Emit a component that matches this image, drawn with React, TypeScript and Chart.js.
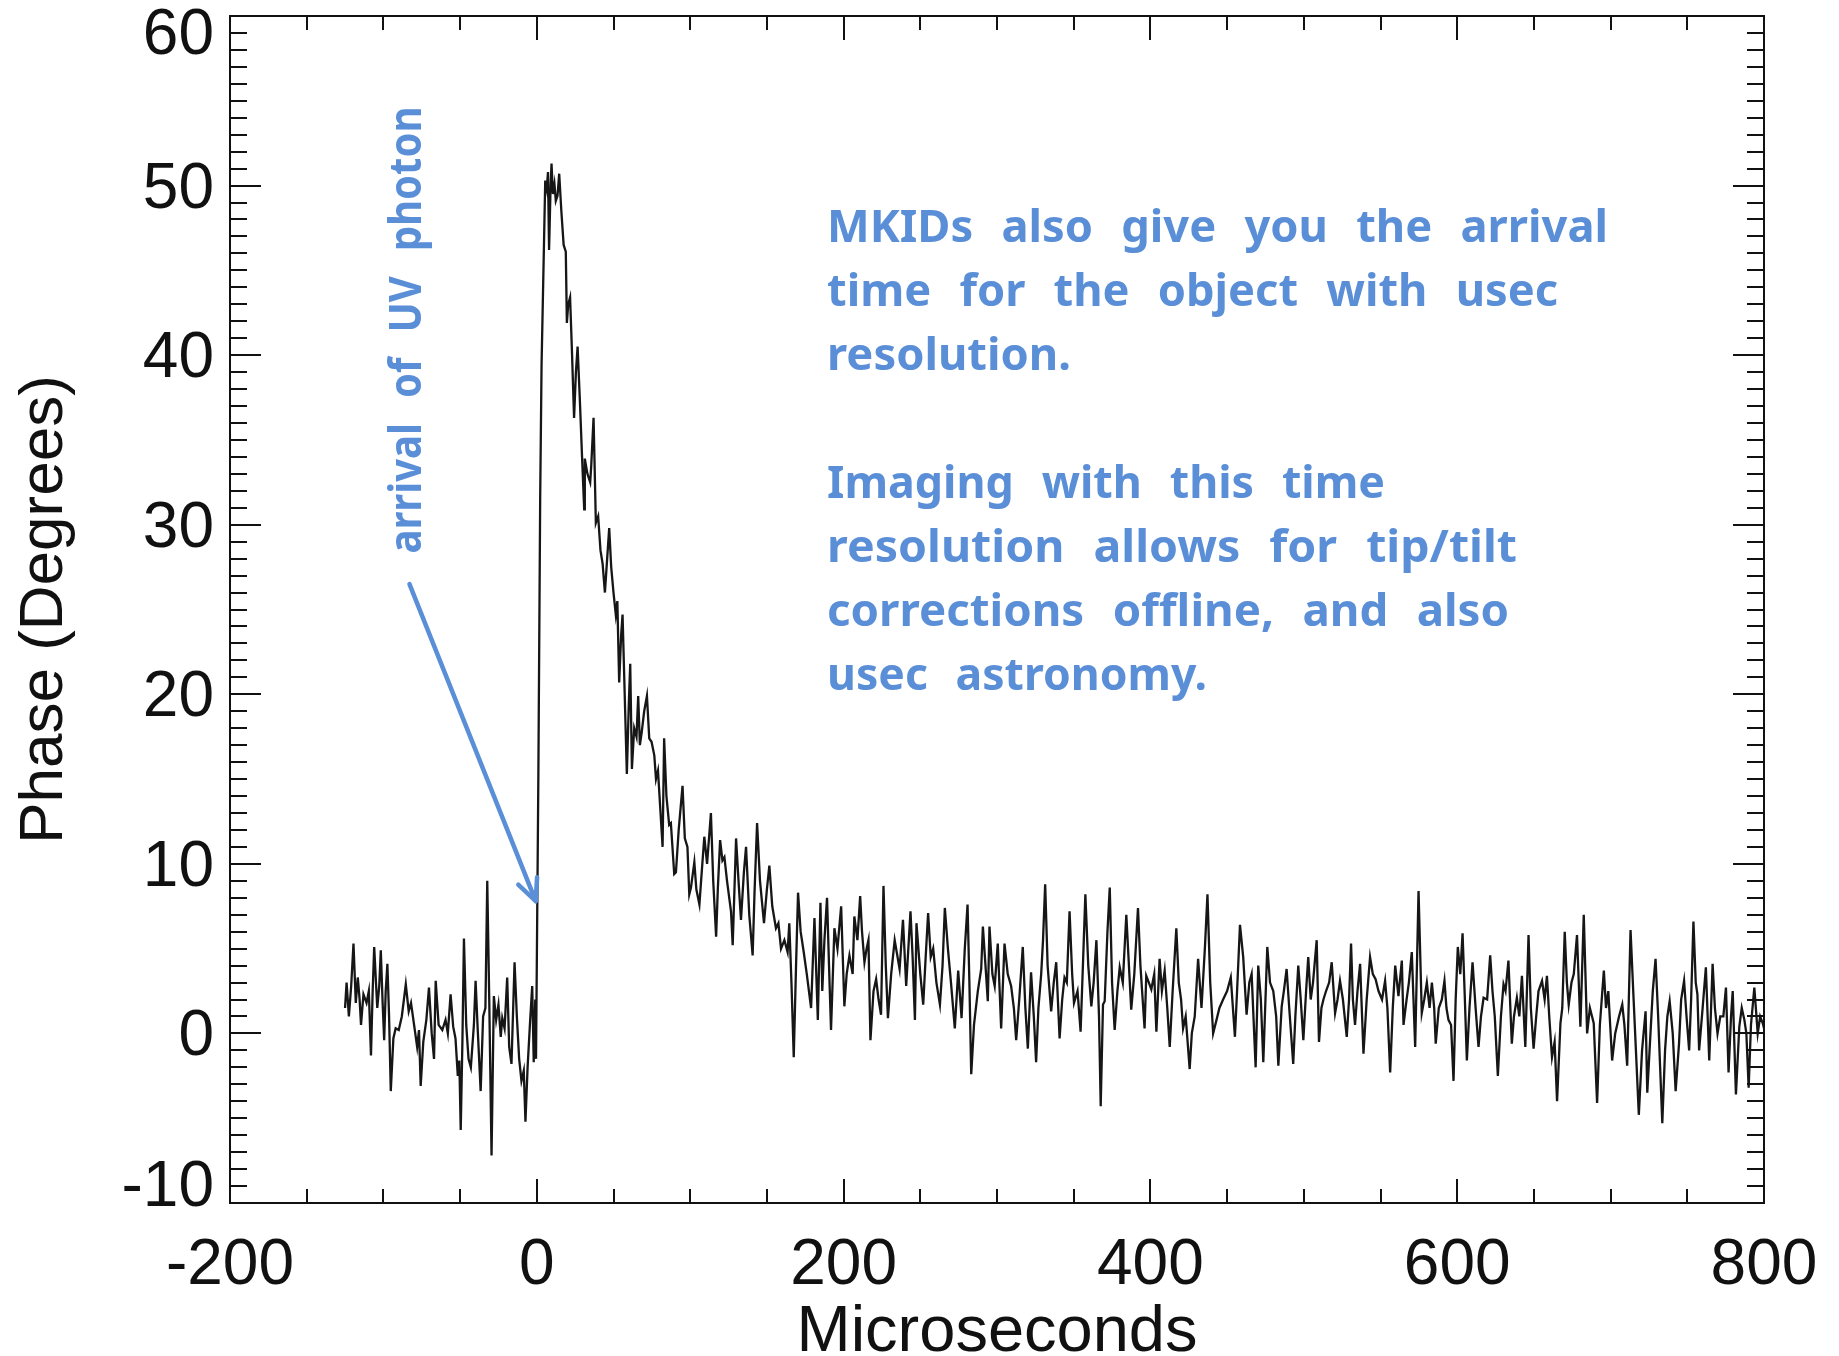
import React, { useEffect, useRef } from "react";
import { Chart, registerables } from "chart.js";

Chart.register(...registerables);

// ---------- data (microseconds, phase in degrees) ----------
const baselineBefore: [number, number][] = [
  [-125, 1.5], [-124, 3.0], [-122.5, 1.0], [-121, 2.8], [-119.5, 5.3], [-118, 1.8], [-116.7, 3.3], [-115.5, 2.0],
  [-114.6, 0.5], [-113, 2.3], [-111, 1.8], [-109.5, 2.5], [-108.1, -1.3], [-107, 2.5], [-106, 5.1], [-104, 1.5],
  [-102.7, 2.8], [-101.7, 4.9], [-100.5, 1.8], [-99.5, -0.4], [-98.5, 2.5], [-97.4, 4.1], [-96.3, 1.0], [-95.2, -3.4],
  [-93.5, -0.3], [-92, 0.3], [-90, 0.2], [-88, 1.0], [-85.4, 2.9], [-83.5, 1.3], [-82, 1.8], [-80, 0.5],
  [-78, -0.8], [-76.8, 0.2], [-75.7, -3.1], [-74, -0.5], [-72, 0.8], [-70.3, 2.7], [-68.5, 0.0], [-67, -1.5],
  [-65.9, 3.1], [-64, 0.5], [-61.6, 0.2], [-59.5, 0.8], [-58, 0.0], [-56.2, 2.3], [-54.5, 0.4], [-53, -0.3],
  [-51.5, -2.5], [-50.5, -1.6], [-49.6, -5.7], [-48.5, -0.5], [-47.5, 5.6], [-46, 0.5], [-44.5, -1.5], [-43, -2.0],
  [-41, 0.5], [-39.9, 3.1], [-38.5, 0.2], [-36.6, -3.4], [-35, 1.0], [-33.5, 1.5], [-32.3, 9.0], [-31, 2.0],
  [-29.5, -7.2], [-28, 2.2], [-26.5, 0.8], [-25, 1.7], [-23.5, -0.2], [-22.5, 0.9], [-21, 0.3], [-19.3, 3.3],
  [-18, -0.8], [-16.5, -1.8], [-14.5, 4.2], [-13, 1.0], [-11.5, -1.5], [-10, -2.8], [-8.5, -2.2], [-7.4, -5.2],
  [-6, -2.0], [-4.5, 0.5], [-3, 2.8], [-2, -1.7], [-1, 2.0], [-0.5, -1.5],
];

const pulsePeak: [number, number][] = [
  [1.0, 15], [2.2, 31.5], [3.1, 39.4], [4.4, 45.3], [5.5, 50.3], [6.5, 49.8], [7.3, 50.8], [8, 46.2],
  [9, 50.0], [9.6, 51.3], [10.5, 49.5], [11.5, 50.1], [12.4, 49.1], [13.5, 49.4], [14.6, 50.7], [16, 48.5],
  [17.5, 46.5], [18.9, 46.1], [19.6, 41.9], [20.5, 43.0], [21.7, 43.4], [23, 40.0], [24.3, 36.3], [25.5, 39.0],
  [26.6, 40.5], [28, 37.5], [29.5, 34.0], [30.9, 30.9], [31.3, 33.9], [33, 33.0], [34.8, 32.5], [35.5, 33.5],
  [37, 36.3], [38.5, 30.1], [40, 30.5], [41.5, 28.5], [42.9, 27.7], [44.4, 26.0], [45.5, 27.5], [47.2, 29.8],
  [48.5, 27.5], [50, 26.0], [51.5, 24.7], [52.5, 25.5], [53.7, 20.7], [55, 23.5], [55.9, 24.7], [57, 21.0],
  [58.7, 15.3], [60, 19.5], [60.9, 21.8], [62, 15.6],
];

const pulseDecay: [number, number][] = [
  [63.5, 18.0], [65, 17.5], [66.1, 19.9], [67.2, 17.0], [68.3, 17.7], [70, 19.0], [71.8, 19.9], [73.3, 17.4],
  [74.8, 17.2], [76.6, 16.4], [77.7, 15.0], [79, 15.5], [80, 14.0], [82, 11.0], [83, 17.4], [84.5, 14.0],
  [86.3, 12.3], [87.4, 12.4], [89.6, 9.4], [90.7, 9.5], [92.5, 12.0], [95, 14.6], [96.5, 11.5], [98.2, 11.0],
  [99.4, 8.2], [100.5, 8.6], [102.7, 10.1], [104, 8.5], [106, 7.6], [107.5, 9.5], [109.2, 11.6], [111, 10.0],
  [113.5, 13.0], [115, 9.0], [116.9, 5.7], [118, 8.5], [119.5, 11.4], [121, 10.2], [122.3, 10.4], [124, 9.0],
  [126.6, 7.2], [127.7, 5.2], [129.9, 11.5], [131.5, 9.0], [133.1, 6.7], [135, 9.5], [136.4, 11.0], [138.5, 7.0],
  [140.7, 4.6], [142, 8.5], [143.6, 12.4], [145.5, 9.0], [148.1, 6.5], [150, 8.5], [151.6, 9.9], [153.5, 7.5],
  [155.9, 6.2], [157.5, 6.5], [159.2, 5.0], [161.4, 5.5], [163.5, 4.8], [164.6, 6.5], [166, 3.0], [167.5, -1.4],
  [169, 4.0], [170.3, 8.3],
];

const tailEarly: [number, number][] = [
  [172, 6.0], [174, 4.8], [176, 3.5], [178.8, 1.5], [181, 6.8], [182.2, 3.5], [183.2, 0.8], [184.9, 7.7],
  [186.1, 2.5], [187.5, 5.5], [189.2, 8.0], [190.5, 4.0], [191.8, 0.2], [194, 6.2], [196, 5.0], [198.4, 7.5],
  [200.5, 1.6], [202, 3.5], [203.8, 4.6], [205.9, 3.5], [207, 6.9], [209, 5.5], [210.8, 8.1], [212, 6.0],
  [213.6, 4.2], [215, 5.0], [216.2, 5.5], [217.5, -0.4], [219.5, 2.5], [221.2, 3.2], [222.8, 2.0], [224.4, 1.1],
  [226, 8.7], [227.5, 4.0], [228.9, 0.9], [231, 3.5], [233.3, 5.5], [236.5, 3.8], [238.7, 6.7], [240.8, 2.8],
  [243.6, 7.2], [245, 4.5], [246.5, 0.8], [247.5, 6.5], [250, 3.5], [251.9, 1.7], [253.5, 4.5], [255.1, 7.1],
  [256.8, 4.5], [258.4, 5.0], [260.5, 3.0], [262.8, 1.7], [264.5, 4.0], [266, 7.4], [268, 5.0], [270, 3.0],
  [272.5, 0.3], [274.7, 3.7], [276.9, 0.9], [279, 5.0], [280.8, 7.6], [282, 3.0], [283.2, -2.4], [285, 0.5],
  [287.5, 2.5], [289.7, 3.8], [290.8, 6.3], [292.5, 4.0], [294, 1.9], [295.1, 6.3], [297, 3.5], [298.5, 2.8],
  [300.5, 5.3], [302.7, 0.3], [304.9, 5.3], [307, 3.5], [309.2, 2.8], [311, 1.5], [312.5, -0.4], [314.5, 2.0],
  [316.8, 5.1], [318.5, 1.5], [320.1, -0.9], [322.2, 3.6], [324, 1.0], [325.5, -1.7], [327, 1.5], [328.8, 3.5],
  [330, 5.5], [331.4, 8.8], [333, 4.0], [335.3, 1.3], [337, 3.0], [338.6, 4.2], [340.8, -0.3], [342.5, 2.0],
  [344, 3.3], [345.5, 3.0], [347.3, 7.2], [349, 3.5], [350.2, 1.8], [352.5, 2.5], [354.5, 0.1], [356, 4.0],
  [357.6, 8.2], [359.5, 4.0], [361.5, 1.6], [363, 3.0], [364.8, 5.5], [366.5, 1.0], [367.6, -4.3], [369.1, 1.7],
  [370.2, 1.9], [372, 6.0],
];

const tailMid: [number, number][] = [
  [373.5, 8.6], [375, 3.0], [376.7, 0.2], [378.5, 2.5], [380, 3.9], [382, 3.0], [384.3, 7.0], [386, 4.0],
  [387.5, 1.4], [389.5, 3.5], [391.9, 7.4], [393.5, 4.0], [396.2, 0.3], [397.3, 3.4], [399, 3.0], [400.6, 2.6],
  [402.5, 3.5], [403.9, 0.1], [406, 4.4], [407.5, 2.5], [409.3, 3.7], [411, 1.5], [412.6, -0.8], [414.5, 2.5],
  [416.9, 6.2], [418.5, 3.0], [420, 2.0], [421.3, 0.3], [423, 1.0], [425.6, -2.1], [427, 0.0], [428.9, 1.0],
  [431.1, 4.4], [433.3, 1.5], [435.5, 5.0], [437.2, 8.2], [439, 3.0], [440.9, 0.0], [443.1, 0.8], [445, 1.5],
  [447.4, 2.0], [450, 2.5], [452.4, 3.3], [455.1, -0.2], [456.5, 2.5], [458.4, 6.4], [460.5, 4.5], [462.7, 1.1],
  [464.5, 3.0], [466, 3.5], [468.6, -2.0], [470.3, 4.0], [472, 2.0], [473.6, -1.7], [476.2, 5.1], [478, 3.0],
  [480.1, 2.5], [482, 1.0], [483.4, -1.9], [485.6, 1.6], [487, 2.5], [488.8, 3.8], [490.5, 1.5], [493.1, -1.8],
  [494.5, 1.0], [496.4, 4.0], [498, 2.0], [499.7, -0.4], [501.5, 2.5], [502.9, 4.5], [504.5, 2.0], [506, 3.0],
  [508.4, 5.5], [509.9, -0.5], [511.5, 1.5], [512.8, 2.0], [514.5, 2.5], [516.5, 3.0], [518.2, 4.2], [520.4, 1.2],
  [522, 2.0], [523.6, 3.1], [525.5, 2.0], [528, -0.2], [529.5, 2.0], [530.8, 5.3], [532, 2.0], [533.4, 0.5],
  [535, 2.5], [536.7, 4.1], [538.9, -1.2], [541, 2.0], [543.2, 4.5], [545, 3.5], [546.8, 3.2], [548.7, 2.5],
  [551, 2.0], [553, 3.1], [554.5, 1.5], [556.3, -2.3], [558, 1.5], [559.6, 4.0], [561.7, 2.2], [563.9, 4.3],
  [565, 0.5], [567, 2.0], [568.5, 3.0], [570.4, 4.8], [572.6, -0.8], [574.8, 8.4], [576.9, 1.2], [578.5, 2.0],
  [580.2, 3.0], [582, 1.5], [583.5, 3.0],
];

const tailLate: [number, number][] = [
  [585, 1.5], [586, -0.6], [588, 1.5], [590, 2.0], [591.7, 3.1], [593, 1.5], [594.3, 0.8], [596, 0.5],
  [597.6, -2.8], [599, 2.0], [600.4, 5.1], [602, 3.5], [603.5, 5.9], [605, 2.0], [606.3, -1.6], [608, 1.5],
  [610, 4.2], [612, 1.5], [613.9, -0.8], [615.5, 1.0], [617.2, 2.1], [619.5, 2.0], [621.5, 4.6], [623, 2.5],
  [624.5, 1.0], [626.5, -2.5], [628.5, 1.0], [630.2, 2.9], [631.5, 2.5], [633.4, 4.3], [635.6, -0.6], [637, 1.0],
  [638.9, 2.1], [640.5, 1.0], [642.2, 3.4], [644.4, -0.8], [646.5, 5.8], [648, 1.5], [649.8, -0.9], [651.5, 1.0],
  [653, 2.5], [655.3, 3.1], [657, 2.0], [658.5, 3.4], [660, 1.0], [661.8, -1.4], [663.5, -0.5], [665.1, -4.0],
  [667.3, 0.6], [668.5, 1.5], [670.1, 6.0], [671.5, 3.0], [672.7, 1.7], [674.5, 3.0], [676, 3.5], [678.1, 5.8],
  [680.3, 0.4], [682.5, 7.0], [684.7, 0.0], [686.5, 1.5], [689, 0.6], [691.2, -4.1], [693, 0.5], [695.6, 3.7],
  [697, 1.5], [698.5, 2.5], [701, -1.6], [703, 0.0], [705.5, 1.0], [707.6, 1.7], [709, 0.5], [710.8, -1.9],
  [713, 6.1], [715, 2.0], [716.5, -1.0], [718.4, -4.8], [720.5, -1.0], [722.8, 1.3], [723.9, -3.5], [726, 0.0],
  [727.5, 2.5], [729.3, 4.4], [731, 1.0], [733.7, -5.3], [735.5, -1.0], [737, 1.0], [738.5, 1.9], [740.5, 0.0],
  [742.4, -3.4], [744.6, -0.6], [746, 2.0], [747.9, 3.1], [749.5, 1.0], [751.2, -1.0], [752.5, 2.0], [754, 6.6],
  [755.5, 3.0], [756.6, 2.3], [757.7, -1.0], [760, 1.5], [762.1, 3.9], [764.3, -1.6], [766.5, 4.1], [768, 1.5],
  [769.7, 0.0], [771.5, 1.0], [773.5, 1.0], [775.2, 2.7], [776.9, -2.3], [778.5, 1.0], [779.6, 2.5], [781.7, -3.6],
  [783.9, 0.4], [785.5, 1.5], [787.2, 0.8], [788.5, 0.0], [790, -3.2], [791.5, 0.5], [793.7, 2.7], [795.9, 0.0],
  [797.5, 1.0], [799.2, 0.6], [800, 0.3],
];

const xTickValues = [-200, 0, 200, 400, 600, 800];
const yTickValues = [-10, 0, 10, 20, 30, 40, 50, 60];
const xTitle = "Microseconds";
const yTitle = "Phase (Degrees)";
const noteLines = [
  "MKIDs also give you the arrival",
  "time for the object with usec",
  "resolution.",
  "",
  "Imaging with this time",
  "resolution allows for tip/tilt",
  "corrections offline, and also",
  "usec astronomy.",
];
const arrowLabel = "arrival of UV photon";
// annotation anchors in data coordinates (µs, degrees)
const noteAnchor = [189.2, 46.66];
const arrowLabelAnchor = [-75.7, 28.3];
const arrowFrom = [-83, 26.5];
const arrowTo = [-0.7, 7.8];

// ---------- styling / layout ----------
const X_MIN = -200, X_MAX = 800, X_MINOR = 50;
const Y_MIN = -10, Y_MAX = 60, Y_MINOR = 1;
const BLUE = "#5A8FD8";
const INK = "#111111";
const AXIS_FONT = "'Liberation Sans', Arial, Helvetica, sans-serif";
const NOTE_FONT = "bold 44px 'Noto Sans', 'DejaVu Sans', sans-serif";
const NOTE_WIDTHS = [781, 731, 244, 0, 558, 690, 682, 380];
const NOTE_LINE_STEP = 64;
const ARROW_LABEL_LEN = 447;

const decorPlugin = {
  id: "decor",
  afterDraw(chart: any) {
    const { ctx, chartArea: a, scales } = chart;
    const xs = scales.x;
    const ys = scales.y;
    ctx.save();

    // frame
    ctx.strokeStyle = INK;
    ctx.lineWidth = 2;
    ctx.strokeRect(a.left, a.top, a.right - a.left, a.bottom - a.top);

    const seg = (x1: number, y1: number, x2: number, y2: number) => {
      ctx.beginPath();
      ctx.moveTo(x1, y1);
      ctx.lineTo(x2, y2);
      ctx.stroke();
    };

    // x ticks (bottom & top, pointing inward)
    for (let v = X_MIN; v <= X_MAX; v += X_MINOR) {
      const px = Math.round(xs.getPixelForValue(v));
      const major = v % 200 === 0;
      const len = major ? 24 : 14;
      seg(px, a.bottom, px, a.bottom - len);
      seg(px, a.top, px, a.top + len);
    }
    // y ticks (left & right, pointing inward)
    for (let v = Y_MIN; v <= Y_MAX; v += Y_MINOR) {
      const py = Math.round(ys.getPixelForValue(v));
      const major = v % 10 === 0;
      const len = major ? 31 : 17;
      seg(a.left, py, a.left + len, py);
      seg(a.right, py, a.right - len, py);
    }

    // tick labels
    ctx.fillStyle = INK;
    ctx.font = `64px ${AXIS_FONT}`;
    ctx.textAlign = "center";
    ctx.textBaseline = "alphabetic";
    xTickValues.forEach((v) => {
      ctx.fillText(String(v), xs.getPixelForValue(v), a.bottom + 81);
    });
    ctx.textAlign = "right";
    yTickValues.forEach((v) => {
      let py = ys.getPixelForValue(v);
      py = Math.max(py, a.top + 16);
      py = Math.min(py, a.bottom - 19);
      ctx.fillText(String(v), a.left - 16, py + 22);
    });

    // axis titles
    ctx.font = `65px ${AXIS_FONT}`;
    ctx.textAlign = "center";
    ctx.fillText(xTitle, (a.left + a.right) / 2, a.bottom + 148);
    ctx.save();
    ctx.font = `62px ${AXIS_FONT}`;
    ctx.translate(a.left - 168, (a.top + a.bottom) / 2);
    ctx.rotate(-Math.PI / 2);
    ctx.fillText(yTitle, 0, 0);
    ctx.restore();

    // blue notes
    ctx.fillStyle = BLUE;
    ctx.font = NOTE_FONT;
    ctx.textAlign = "left";
    if ("wordSpacing" in ctx) (ctx as any).wordSpacing = "16px";
    const nx = xs.getPixelForValue(noteAnchor[0]);
    const ny = ys.getPixelForValue(noteAnchor[1]);
    noteLines.forEach((line, i) => {
      if (!line) return;
      const w = ctx.measureText(line).width;
      ctx.save();
      ctx.translate(nx, ny + i * NOTE_LINE_STEP);
      ctx.scale(NOTE_WIDTHS[i] / w, 1);
      ctx.fillText(line, 0, 0);
      ctx.restore();
    });

    // rotated label
    {
      const w = ctx.measureText(arrowLabel).width;
      ctx.save();
      ctx.translate(xs.getPixelForValue(arrowLabelAnchor[0]), ys.getPixelForValue(arrowLabelAnchor[1]));
      ctx.rotate(-Math.PI / 2);
      ctx.scale(ARROW_LABEL_LEN / w, 1);
      ctx.fillText(arrowLabel, 0, 0);
      ctx.restore();
    }
    if ("wordSpacing" in ctx) (ctx as any).wordSpacing = "0px";

    // arrow
    const x1 = xs.getPixelForValue(arrowFrom[0]);
    const y1 = ys.getPixelForValue(arrowFrom[1]);
    const x2 = xs.getPixelForValue(arrowTo[0]);
    const y2 = ys.getPixelForValue(arrowTo[1]);
    ctx.strokeStyle = BLUE;
    ctx.lineWidth = 4.5;
    ctx.lineCap = "round";
    ctx.lineJoin = "round";
    seg(x1, y1, x2, y2);
    const ang = Math.atan2(y2 - y1, x2 - x1);
    const head = 24;
    const spread = (25 * Math.PI) / 180;
    ctx.beginPath();
    ctx.moveTo(x2 - head * Math.cos(ang - spread), y2 - head * Math.sin(ang - spread));
    ctx.lineTo(x2, y2);
    ctx.lineTo(x2 - head * Math.cos(ang + spread), y2 - head * Math.sin(ang + spread));
    ctx.stroke();

    ctx.restore();
  },
};

export default function App() {
  const canvasRef = useRef<HTMLCanvasElement | null>(null);

  useEffect(() => {
    const canvas = canvasRef.current;
    if (!canvas) return;
    const points = [...baselineBefore, ...pulsePeak, ...pulseDecay, ...tailEarly, ...tailMid, ...tailLate].map(
      ([x, y]) => ({ x, y })
    );
    const chart = new Chart(canvas, {
      type: "line",
      data: {
        datasets: [
          {
            data: points,
            borderColor: "#161616",
            borderWidth: 2.3,
            pointRadius: 0,
            tension: 0,
            fill: false,
          },
        ],
      },
      options: {
        animation: false,
        responsive: false,
        devicePixelRatio: 1,
        layout: { padding: { left: 230, top: 16, right: 75, bottom: 153 } },
        scales: {
          x: { type: "linear", min: X_MIN, max: X_MAX, display: false },
          y: { type: "linear", min: Y_MIN, max: Y_MAX, display: false },
        },
        plugins: { legend: { display: false }, tooltip: { enabled: false } },
      },
      plugins: [decorPlugin],
    });
    return () => chart.destroy();
  }, []);

  return (
    <div style={{ position: "absolute", left: 0, top: 0, width: 1839, height: 1356, background: "#fff" }}>
      <canvas ref={canvasRef} width={1839} height={1356} style={{ display: "block" }} />
    </div>
  );
}
